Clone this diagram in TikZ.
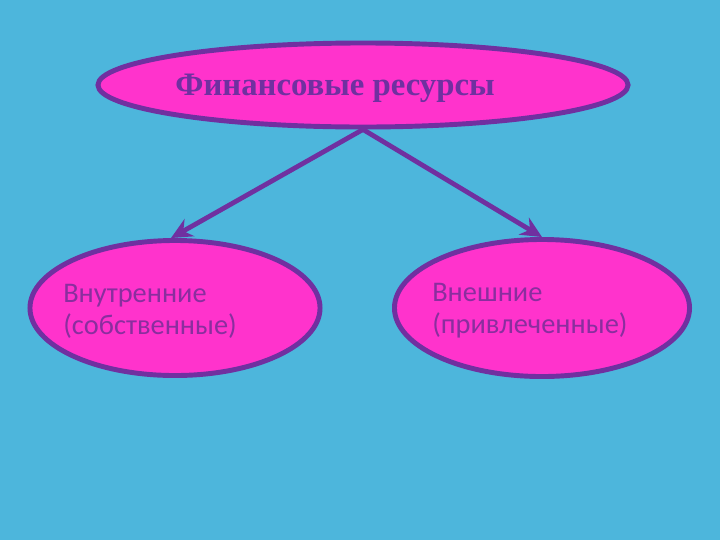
\documentclass[tikz,border=0pt]{standalone}
\usepackage{fontspec}
\setmainfont{Liberation Serif}
\newfontfamily\bodyfont{Carlito}
\usetikzlibrary{shapes.geometric, arrows.meta, positioning}
\definecolor{bgblue}{HTML}{4DB6DC}
\definecolor{pinkfill}{HTML}{FF33CC}
\definecolor{edgepurple}{HTML}{7030A0}
\definecolor{txtpurple}{HTML}{8A2E9E}
\begin{document}
\begin{tikzpicture}[x=0.025cm, y=-0.025cm,
    oval/.style={ellipse, draw=edgepurple, fill=pinkfill, line width=3.5pt, inner sep=0pt},
    lbl/.style={font=\bodyfont\fontsize{20.2}{22.7}\selectfont, text=txtpurple, align=left, inner sep=0pt},
    link/.style={draw=edgepurple, line width=3.4pt, -{Stealth[length=15pt, width=14pt, inset=5pt]}}]
      \fill[bgblue] (0, 0) rectangle (720, 540);

      \node[oval, minimum width=13.25cm, minimum height=2.1cm] (res) at (363, 85) {};
      \node[font=\bfseries\fontsize{23.3}{26}\selectfont, text=edgepurple] (restxt) at (335, 88) {Финансовые ресурсы};

      \node[oval, minimum width=7.25cm, minimum height=3.375cm] (int) at (175, 308) {};
      \node[lbl, anchor=west] (inttxt) at (63, 311) {Внутренние\\(собственные)};

      \node[oval, minimum width=7.375cm, minimum height=3.425cm] (ext) at (542, 308) {};
      \node[lbl, anchor=west] (exttxt) at (432, 311) {Внешние\\(привлеченные)};

      \draw[link] (res.south) -- ([xshift=-0.1cm]int.north);
      \draw[link] (res.south) -- (ext.north);
\end{tikzpicture}
\end{document}
